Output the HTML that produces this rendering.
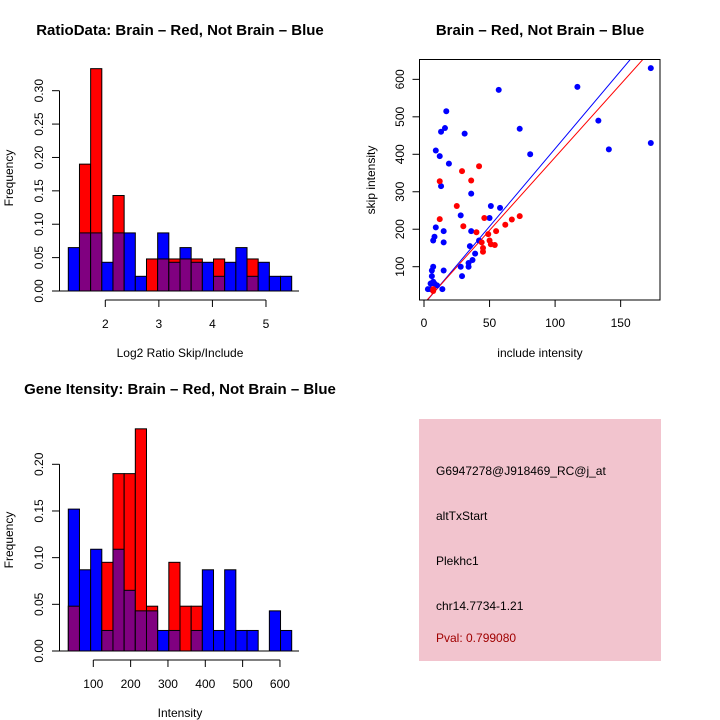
<!DOCTYPE html>
<html><head><meta charset="utf-8"><style>
body{margin:0;background:#fff}
svg{display:block;font-family:"Liberation Sans",sans-serif}
</style></head><body>
<svg id="c" width="720" height="720" xmlns="http://www.w3.org/2000/svg">
<rect width="720" height="720" fill="#fff"/>
<text x="180" y="35" text-anchor="middle" font-weight="bold" font-size="15">RatioData: Brain – Red, Not Brain – Blue</text>
<text x="180" y="357" text-anchor="middle" font-size="12">Log2 Ratio Skip/Include</text>
<text transform="translate(13,178) rotate(-90)" text-anchor="middle" font-size="12">Frequency</text>
<text x="540" y="35" text-anchor="middle" font-weight="bold" font-size="15">Brain – Red, Not Brain – Blue</text>
<text x="540" y="357" text-anchor="middle" font-size="12">include intensity</text>
<text transform="translate(375,180) rotate(-90)" text-anchor="middle" font-size="12">skip intensity</text>
<text x="180" y="394" text-anchor="middle" font-weight="bold" font-size="15">Gene Itensity: Brain – Red, Not Brain – Blue</text>
<text x="180" y="717" text-anchor="middle" font-size="12">Intensity</text>
<text transform="translate(13,540) rotate(-90)" text-anchor="middle" font-size="12">Frequency</text>
<g>
<rect x="419" y="419" width="242" height="242" fill="#f2c4ce"/>
<text x="436" y="475" font-size="12">G6947278@J918469_RC@j_at</text>
<text x="436" y="520" font-size="12">altTxStart</text>
<text x="436" y="565" font-size="12">Plekhc1</text>
<text x="436" y="610" font-size="12">chr14.7734-1.21</text>
<text x="436" y="642" font-size="12" fill="#a00000">Pval: 0.799080</text>
</g>
</svg>
<script>
const ratioRed=[0,0.190,0.333,0,0.143,0,0,0.048,0.048,0.048,0.048,0.048,0,0.048,0,0,0.048,0,0,0];
const ratioBlue=[0.065,0.087,0.087,0.043,0.087,0.087,0.022,0,0.087,0.043,0.065,0.043,0.043,0.022,0.043,0.065,0.022,0.043,0.022,0.022];
const ratioXTicks=[2,3,4,5];
const ratioYTicks=[0,0.05,0.10,0.15,0.20,0.25,0.30];
const intRed=[0.048,0,0,0.095,0.190,0.190,0.238,0.048,0,0.095,0.048,0.048,0,0,0,0,0,0,0,0];
const intBlue=[0.152,0.087,0.109,0.022,0.109,0.065,0.043,0.043,0.022,0.022,0,0.022,0.087,0.022,0.087,0.022,0.022,0,0.043,0.022];
const intXTicks=[100,200,300,400,500,600];
const intYTicks=[0,0.05,0.10,0.15,0.20];
const blueX=[3,5,6,6,7,7,8,9,9,12,13,16,17,19,13,15,15,15,14,8,10,5,28,29,28,31,36,36,35,37,34,34,39,42,50,51,58,57,73,81,117,133,141,173,173,7];
const blueY=[40,55,90,75,100,170,180,205,410,395,460,470,515,375,315,195,165,90,40,55,50,40,100,75,237,455,295,195,155,118,110,100,135,170,230,262,257,572,468,400,580,490,413,630,430,60];
const redX=[12,12,7,25,29,30,36,40,42,44,45,45,46,49,50,51,54,55,62,67,73,7];
const redY=[328,227,35,262,355,208,330,192,368,165,150,140,230,187,170,160,158,195,212,226,235,40];
const scXTicks=[0,50,100,150];
const scYTicks=[100,200,300,400,500,600];
const blueLine=[0,4.15];
const redLine=[2,3.9];

const svg=document.getElementById('c');
const NS='http://www.w3.org/2000/svg';
function mk(tag,a,parent){const e=document.createElementNS(NS,tag);for(const k in a)e.setAttribute(k,a[k]);(parent||svg).appendChild(e);return e;}

function hist(prefix,red,blue,xTicks,yTicks,xmap,ymap,x0,bw,axisY){
  const g=mk('g',{});
  
  
  for(let i=0;i<red.length;i++){
    const xl=x0+i*bw;
    const r=red[i],b=blue[i];
    const hi=Math.max(r,b),lo=Math.min(r,b);
    if(hi>0){
      const e=mk('rect',{x:xl,y:ymap(hi),width:bw,height:ymap(0)-ymap(hi),fill:r>=b?'#ff0000':'#0000ff',stroke:'#000','stroke-width':1},g);
      
      
    }
    if(lo>0){
      const e=mk('rect',{x:xl,y:ymap(lo),width:bw,height:ymap(0)-ymap(lo),fill:'#800080',stroke:'#000','stroke-width':1},g);
      
      
    }
  }
  const bl=mk('line',{x1:52,x2:299,y1:ymap(0),y2:ymap(0),stroke:'#000'},g);
  
  
  const ax=mk('line',{x1:xmap(xTicks[0]),x2:xmap(xTicks[xTicks.length-1]),y1:axisY,y2:axisY,stroke:'#000'},g);
  
  
  xTicks.forEach(t=>{
    mk('line',{x1:xmap(t),x2:xmap(t),y1:axisY,y2:axisY+7,stroke:'#000'},g);
    const tx=mk('text',{x:xmap(t),y:axisY+28,'text-anchor':'middle','font-size':12},g);
    tx.textContent=t;
    
    
  });
  const ay=mk('line',{x1:59.5,x2:59.5,y1:ymap(yTicks[0]),y2:ymap(yTicks[yTicks.length-1]),stroke:'#000'},g);
  
  
  yTicks.forEach(t=>{
    mk('line',{x1:52,x2:59.5,y1:ymap(t),y2:ymap(t),stroke:'#000'},g);
    const tx=mk('text',{transform:'translate(43,'+ymap(t)+') rotate(-90)','text-anchor':'middle','font-size':12},g);
    tx.textContent=t.toFixed(2);
    
    
  });
}
hist('ratio',ratioRed,ratioBlue,ratioXTicks,ratioYTicks,v=>105.3+(v-2)*53.56,v=>291-v*667.7,68.3,11.17,300);
hist('intensity',intRed,intBlue,intXTicks,intYTicks,v=>93.3+(v-100)*0.3733,v=>651-v*933.5,68.3,11.17,660);

const sx=v=>424+v*1.311, sy=v=>266.7-(v-100)*0.3747;
const sg=mk('g',{});


const clip=mk('clipPath',{id:'sc'},sg);
mk('rect',{x:419.5,y:59.5,width:240.5,height:240.5},clip);
const lg=mk('g',{'clip-path':'url(#sc)'},sg);
[[blueLine,'#0000ff','blue-fit-line'],[redLine,'#ff0000','red-fit-line']].forEach(([l,c,n])=>{
  const e=mk('line',{x1:sx(-10),y1:sy(l[0]+l[1]*-10),x2:sx(200),y2:sy(l[0]+l[1]*200),stroke:c,'stroke-width':1},lg);
  
  
});
for(let i=0;i<blueX.length;i++){
  const e=mk('circle',{cx:sx(blueX[i]),cy:sy(blueY[i]),r:3,fill:'#0000ff'},sg);
  
  
}
for(let i=0;i<redX.length;i++){
  const e=mk('circle',{cx:sx(redX[i]),cy:sy(redY[i]),r:3,fill:'#ff0000'},sg);
  
  
}
const box=mk('rect',{x:419.5,y:59.5,width:240.5,height:240.5,fill:'none',stroke:'#000'},sg);


scXTicks.forEach(t=>{
  mk('line',{x1:sx(t),x2:sx(t),y1:300,y2:307,stroke:'#000'},sg);
  const tx=mk('text',{x:sx(t),y:327,'text-anchor':'middle','font-size':12},sg);
  tx.textContent=t;
  
  
});
scYTicks.forEach(t=>{
  mk('line',{x1:412.5,x2:419.5,y1:sy(t),y2:sy(t),stroke:'#000'},sg);
  const tx=mk('text',{transform:'translate(404,'+sy(t)+') rotate(-90)','text-anchor':'middle','font-size':12},sg);
  tx.textContent=t;
  
  
});
</script>
</body></html>
